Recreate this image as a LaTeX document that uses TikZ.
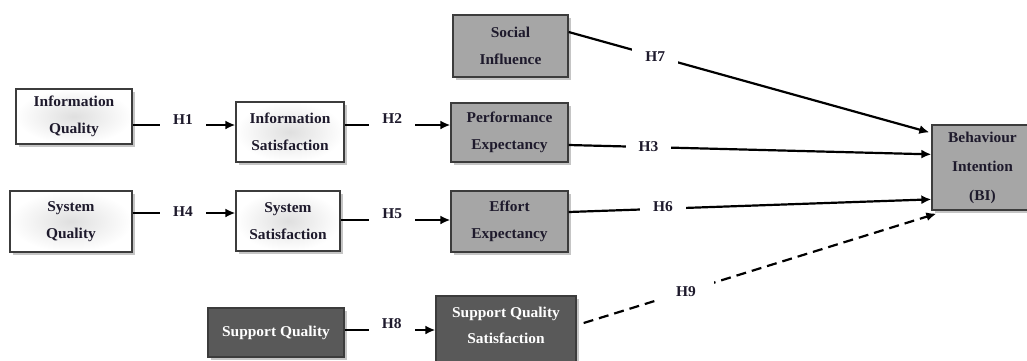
\documentclass[tikz,border=0pt]{standalone}
\usepackage{fontspec}
\setmainfont{Liberation Serif}[FakeStretch=1.03]
\usetikzlibrary{arrows.meta,shadows,calc}
\definecolor{boxgray}{HTML}{A6A6A6}
\definecolor{boxdark}{HTML}{595959}
\definecolor{edgecol}{HTML}{3C3C3C}
\definecolor{ink}{HTML}{1E1A2C}
\tikzset{
  base/.style={draw=edgecol, line width=1.3pt, align=center, inner sep=0pt,
    font=\bfseries\fontsize{15}{27}\selectfont, text=ink,
    drop shadow={shadow xshift=2.5pt, shadow yshift=-2.5pt, fill=gray, opacity=0.45}},
  wbox/.style={base, inner color=gray!25, outer color=white},
  gbox/.style={base, fill=boxgray},
  dbox/.style={base, fill=boxdark, text=white},
  conn/.style={line width=2.2pt, -{Latex[length=10pt,width=9pt]}},
  dashconn/.style={conn, dash pattern=on 10pt off 6pt},
  lbl/.style={fill=white, font=\bfseries\fontsize{15}{17}\selectfont, text=ink,
    inner xsep=13pt, inner ysep=6pt},
}
\begin{document}
\begin{tikzpicture}[x=1pt,y=-1pt]
\useasboundingbox[fill=white] (0,0) rectangle (1027,360);
% boxes
\node[wbox, minimum width=116pt, minimum height=55pt] (iq) at (74,116.5) {Information\\Quality};
\node[wbox, minimum width=108pt, minimum height=60pt] (is) at (290,132) {Information\\Satisfaction};
\node[wbox, minimum width=122pt, minimum height=61pt] (sq) at (71,221.5) {System\\Quality};
\node[wbox, minimum width=104pt, minimum height=60pt] (ss) at (288,221) {System\\Satisfaction};
\node[gbox, minimum width=115pt, minimum height=62pt] (si) at (510.5,46) {Social\\Influence};
\node[gbox, minimum width=117pt, minimum height=59pt] (pe) at (509.5,132.5) {Performance\\Expectancy};
\node[gbox, minimum width=117pt, minimum height=61pt] (ee) at (509.5,221.5) {Effort\\Expectancy};
\node[gbox, minimum width=101pt, minimum height=85pt, font=\bfseries\fontsize{15}{29}\selectfont] (bi) at (982.5,167.5) {Behaviour\\Intention\\(BI)};
\node[dbox, minimum width=136pt, minimum height=49pt] (sup) at (276,332.5) {Support Quality};
\node[dbox, minimum width=140pt, minimum height=70pt] (sqs) at (506,331) {};
\node[align=center, font=\bfseries\fontsize{15}{26}\selectfont, text=white, inner sep=0pt] (sqst) at (506,325) {Support Quality\\Satisfaction};
% connector end points
\coordinate (h1a) at ($(iq.east)+(0,8.5)$);
\coordinate (h1b) at ($(is.west)+(0,-7)$);
\coordinate (h4a) at ($(sq.east)+(0,-8.5)$);
\coordinate (h4b) at ($(ss.west)+(0,-8)$);
\coordinate (h2a) at ($(is.east)+(0,-7)$);
\coordinate (h2b) at ($(pe.west)+(0,-7.5)$);
\coordinate (h5a) at ($(ss.east)+(0,-1)$);
\coordinate (h5b) at ($(ee.west)+(0,-1.5)$);
\coordinate (h7a) at ($(si.east)+(0,-14)$);
\coordinate (h7b) at ($(bi.north west)+(-2,8)$);
\coordinate (h3a) at ($(pe.east)+(0,12.5)$);
\coordinate (h3b) at ($(bi.north west)+(0,30)$);
\coordinate (h6a) at ($(ee.east)+(0,-9.5)$);
\coordinate (h6b) at ($(bi.north west)+(0,75)$);
\coordinate (h9a) at ($(sqs.east)+(7,-8)$);
\coordinate (h9b) at ($(bi.south west)+(5,3)$);
\coordinate (h8a) at ($(sup.east)+(0,-2.5)$);
\coordinate (h8b) at ($(sqs.west)+(0,-1)$);
% connectors
\draw[conn] (h1a) -- node[lbl, yshift=5pt, pos=0.49] (l1) {H1} (h1b);
\draw[conn] (h4a) -- node[lbl, yshift=1pt, pos=0.49] (l4) {H4} (h4b);
\draw[conn] (h2a) -- node[lbl, yshift=6pt, pos=0.45] (l2) {H2} (h2b);
\draw[conn] (h5a) -- node[lbl, yshift=6pt, pos=0.47] (l5) {H5} (h5b);
\draw[conn] (h7a) -- node[lbl, pos=0.24] (l7) {H7} (h7b);
\draw[conn] (h3a) -- node[lbl, pos=0.22] (l3) {H3} (h3b);
\draw[conn] (h6a) -- node[lbl, pos=0.26, yshift=2pt] (l6) {H6} (h6b);
\draw[dashconn] (h9a) -- node[lbl, pos=0.29, inner xsep=18pt] (l9) {H9} (h9b);
\draw[conn] (h8a) -- node[lbl, yshift=6pt, pos=0.52] (l8) {H8} (h8b);
\end{tikzpicture}
\end{document}
